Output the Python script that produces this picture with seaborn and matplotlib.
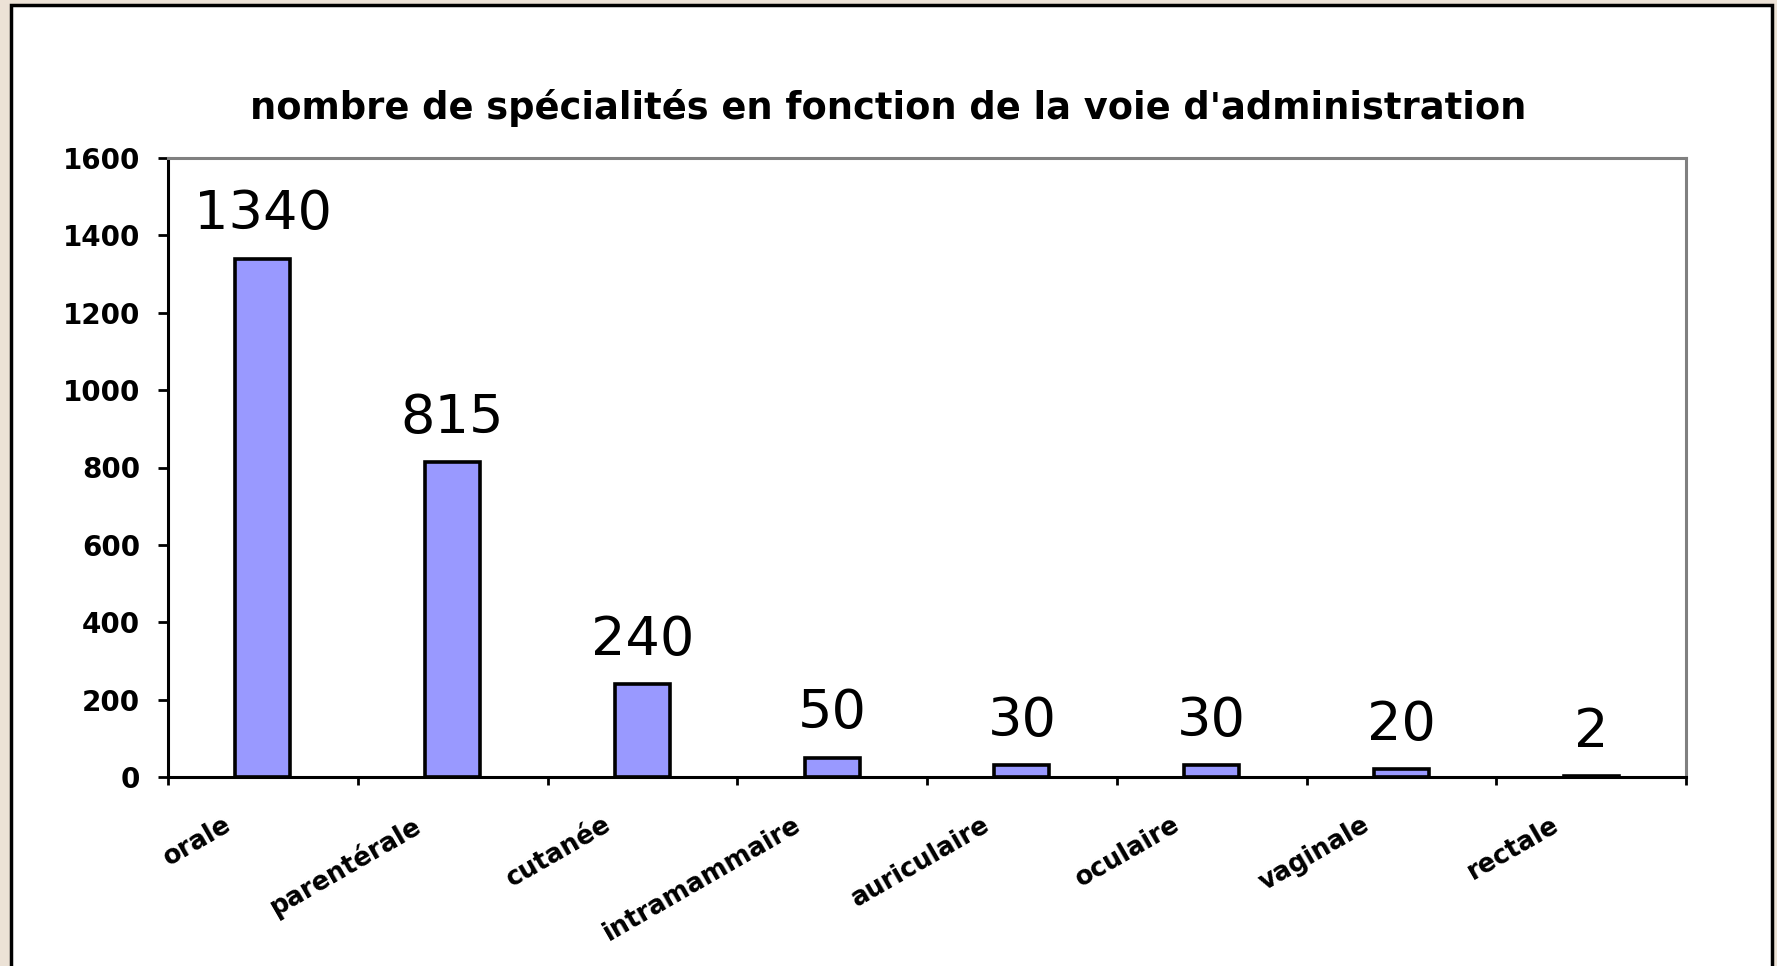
"""
Nombre de spécialités par voie d'administration - bar chart.
"""

import matplotlib
matplotlib.use("Agg")
import matplotlib.pyplot as plt
import matplotlib.transforms as mtransforms
from matplotlib.patches import Rectangle
import seaborn as sns
import pandas as pd


# ──────────────────────────────────────────────
# Data
# ──────────────────────────────────────────────

voies = ["orale", "parentérale", "cutanée", "intramammaire",
         "auriculaire", "oculaire", "vaginale", "rectale"]
nombres = [1340, 815, 240, 50, 30, 30, 20, 2]
y_ticks = [0, 200, 400, 600, 800, 1000, 1200, 1400, 1600]

titre = "nombre de spécialités en fonction de la voie d'administration"

df = pd.DataFrame({"voie": voies, "nombre": nombres})


# ──────────────────────────────────────────────
# Figure
# ──────────────────────────────────────────────

sns.set_style("white")
plt.rcParams["font.family"] = ["DejaVu Sans"]
plt.rcParams["text.color"] = "black"
plt.rcParams["xtick.color"] = "black"
plt.rcParams["ytick.color"] = "black"

W, H = 1777, 966
fig = plt.figure(figsize=(W / 100, H / 100), dpi=100, facecolor="#ece2d6")

# background axes holding the white panel with black frame
bg = fig.add_axes([0, 0, 1, 1], zorder=-1)
bg.set_xlim(0, W)
bg.set_ylim(H, 0)
bg.axis("off")
bg.add_patch(Rectangle((11, 5), 1772 - 11, H + 20, facecolor="white",
                       edgecolor="black", linewidth=2.5))

ax = fig.add_axes([168 / W, (H - 777) / H, (1686 - 168) / W, (777 - 158) / H])
ax.set_facecolor("white")

sns.barplot(data=df, x="voie", y="nombre", color="#9999ff",
            edgecolor="black", linewidth=2.6, width=0.29,
            saturation=1, ax=ax)

ax.set_xlim(-0.5, len(voies) - 0.5)
ax.set_ylim(0, 1600)
ax.set_yticks(y_ticks)
ax.set_yticklabels([str(t) for t in y_ticks], fontsize=20, fontweight="bold")
ax.set_xlabel("")
ax.set_ylabel("")

# spines: black left/bottom, gray top/right
for side in ("left", "bottom"):
    ax.spines[side].set_color("black")
    ax.spines[side].set_linewidth(2.2)
for side in ("top", "right"):
    ax.spines[side].set_visible(True)
    ax.spines[side].set_color("#808080")
    ax.spines[side].set_linewidth(2.2)

ax.tick_params(axis="y", direction="out", length=7, width=2, pad=13,
               left=True, color="black")

# category boundary ticks on x, labels at centres without tick marks
ax.set_xticks([i - 0.5 for i in range(len(voies) + 1)], minor=True)
ax.tick_params(axis="x", which="minor", direction="out", length=6,
               width=2, bottom=True, color="black")
ax.tick_params(axis="x", which="major", length=0, pad=25)
ax.set_xticks(range(len(voies)))
ax.set_xticklabels(voies, rotation=30, ha="right", rotation_mode="anchor",
                   fontsize=18.5, fontweight="bold")
shift = mtransforms.ScaledTranslation(-0.40, 0, fig.dpi_scale_trans)
for lbl in ax.get_xticklabels():
    lbl.set_transform(lbl.get_transform() + shift)

# value labels
for i, v in enumerate(nombres):
    ax.annotate(str(v), xy=(i, v), xytext=(0, 21), textcoords="offset points",
                ha="center", va="baseline", fontsize=39, color="black")

fig.text(0.5, 1 - 108 / H, titre, ha="center", va="center",
         fontsize=26.5, fontweight="bold", color="black")

fig.savefig("out.png", dpi=100, facecolor=fig.get_facecolor())
